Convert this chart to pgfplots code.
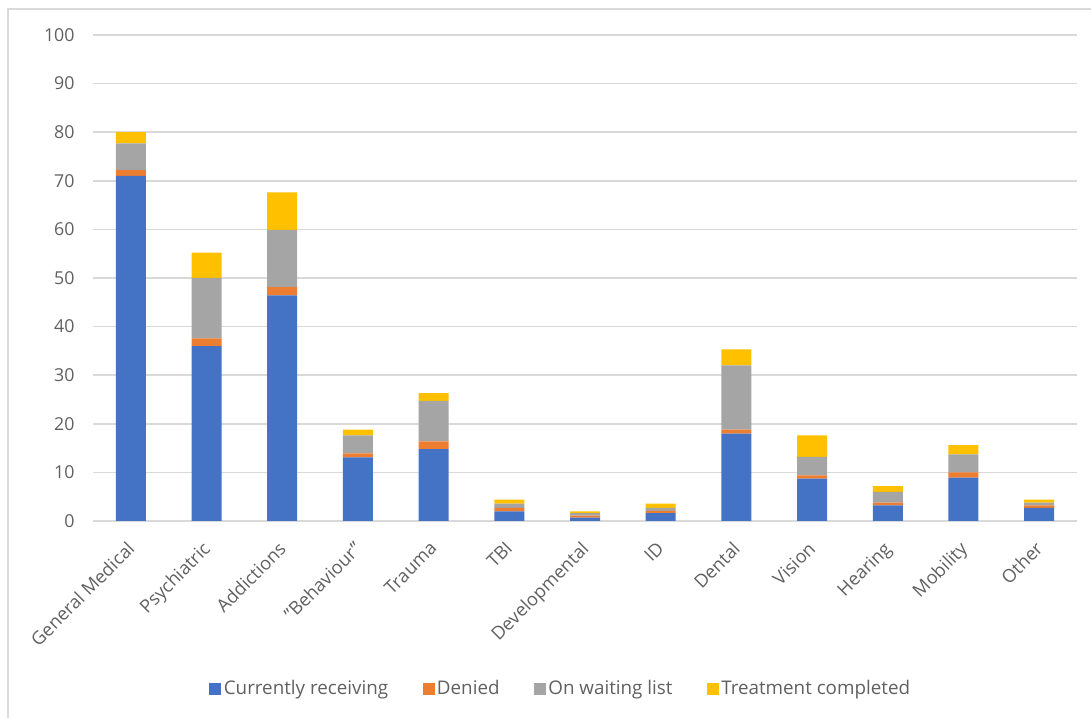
\documentclass[border=0pt]{standalone}
\usepackage{pgfplots}
\pgfplotsset{compat=1.18}
\usepackage{pgfplotstable}
\usepackage{fontspec}
\setmainfont{Open Sans}

\definecolor{recv}{HTML}{4472C4}
\definecolor{deny}{HTML}{ED7D31}
\definecolor{wait}{HTML}{A5A5A5}
\definecolor{done}{HTML}{FFC000}
\definecolor{gridgray}{HTML}{D9D9D9}
\definecolor{labelgray}{HTML}{606060}

% Health service status by type of need (number of people)
\pgfplotstableread{
idx recv deny wait done
0   71.0 1.2  5.5  2.3
1   36.0 1.6  12.4 5.2
2   46.4 1.7  11.8 7.7
3   13.1 0.8  3.7  1.2
4   14.8 1.6  8.3  1.6
5   2.0  0.7  0.9  0.8
6   0.7  0.4  0.5  0.4
7   1.6  0.5  0.6  0.9
8   18.0 0.8  13.2 3.3
9   8.7  0.7  3.8  4.4
10  3.2  0.6  2.2  1.2
11  8.9  1.1  3.7  1.9
12  2.7  0.5  0.6  0.6
}\servicedata

\newcommand{\yfont}{\fontsize{8.9bp}{10bp}\selectfont}
\newcommand{\xfont}{\fontsize{9.1bp}{10bp}\selectfont}
\newcommand{\legfont}{\fontsize{9.4bp}{11bp}\selectfont}

\begin{document}
\begin{tikzpicture}
\useasboundingbox (0,0) rectangle (545.5bp,359bp);
% chart frame
\draw[gridgray, line width=0.8bp] (4bp,-2bp) -- (4bp,354.5bp) -- (548bp,354.5bp);
\begin{axis}[
  at={(46.5bp,98.5bp)}, anchor=south west,
  scale only axis,
  width=492bp, height=243bp,
  ybar stacked,
  bar width=15bp,
  xmin=-0.5, xmax=12.5,
  ymin=0, ymax=100,
  ytick={0,10,...,100},
  xtick=data,
  xticklabels={General Medical,Psychiatric,Addictions,"Behaviour",Trauma,TBI,Developmental,ID,Dental,Vision,Hearing,Mobility,Other},
  axis line style={draw=none},
  major tick length=0pt,
  ymajorgrids,
  grid style={gridgray, line width=0.8bp},
  /pgf/number format/assume math mode=true,
  tick label style={text=labelgray},
  yticklabel style={font=\yfont, anchor=east, inner sep=0pt, xshift=-9bp},
  xticklabel style={font=\xfont, rotate=45, anchor=north east, inner sep=0pt, xshift=-8.5bp, yshift=-5bp},
  legend columns=4,
  legend style={at={(0.4756,-0.3457)}, anchor=center, draw=none, fill=none,
    font=\legfont, text=labelgray,
    /tikz/every even column/.append style={column sep=16bp},
    nodes={inner sep=1.2bp}},
  legend image code/.code={\fill[#1] (0bp,-3bp) rectangle (6bp,3bp);},
]
\addplot[fill=recv, draw=none] table[x=idx, y=recv] {\servicedata};
\addlegendentry{Currently receiving}
\addplot[fill=deny, draw=none] table[x=idx, y=deny] {\servicedata};
\addlegendentry{Denied}
\addplot[fill=wait, draw=none] table[x=idx, y=wait] {\servicedata};
\addlegendentry{On waiting list}
\addplot[fill=done, draw=none] table[x=idx, y=done] {\servicedata};
\addlegendentry{Treatment completed}
\end{axis}
\end{tikzpicture}
\end{document}
